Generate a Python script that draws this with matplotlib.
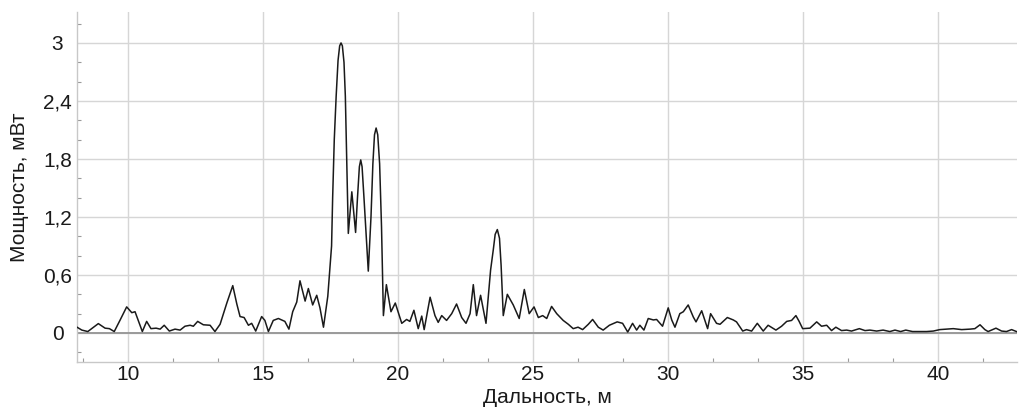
import matplotlib
matplotlib.use("Agg")
import matplotlib.pyplot as plt
from matplotlib.ticker import MultipleLocator, FixedLocator, FuncFormatter

# Distance (m) and power (mW)
distance_m = [
    8.11, 8.29, 8.51, 8.9, 9.15, 9.31, 9.49, 9.7, 9.95, 10.14, 10.26, 10.38, 10.53,
    10.69, 10.85, 11.04, 11.19, 11.34, 11.53, 11.74, 11.93, 12.11, 12.3, 12.42,
    12.58, 12.79, 13.04, 13.22, 13.41, 13.66, 13.88, 14.03, 14.15, 14.3, 14.46,
    14.58, 14.73, 14.95, 15.07, 15.2, 15.38, 15.57, 15.81, 15.96, 16.1, 16.25,
    16.37, 16.56, 16.68, 16.84, 16.99, 17.11, 17.24, 17.4, 17.54, 17.58, 17.64,
    17.71, 17.78, 17.84, 17.89, 17.94, 18.0, 18.05, 18.1, 18.16, 18.29, 18.43,
    18.5, 18.57, 18.62, 18.67, 18.74, 18.9, 19.0, 19.07, 19.13, 19.19, 19.25,
    19.32, 19.39, 19.46, 19.57, 19.74, 19.9, 20.14, 20.32, 20.44, 20.59, 20.75,
    20.88, 20.97, 21.19, 21.37, 21.49, 21.62, 21.8, 21.99, 22.17, 22.36, 22.52,
    22.67, 22.79, 22.91, 23.06, 23.26, 23.43, 23.53, 23.6, 23.68, 23.76, 23.82,
    23.9, 24.05, 24.27, 24.49, 24.68, 24.86, 25.04, 25.2, 25.36, 25.51, 25.69,
    25.88, 26.12, 26.31, 26.49, 26.67, 26.84, 27.05, 27.21, 27.42, 27.6, 27.83,
    28.12, 28.32, 28.51, 28.69, 28.84, 28.96, 29.11, 29.27, 29.46, 29.58, 29.8,
    30.01, 30.14, 30.26, 30.44, 30.57, 30.75, 30.94, 31.04, 31.25, 31.47, 31.58,
    31.8, 31.93, 32.2, 32.42, 32.54, 32.77, 32.91, 33.1, 33.31, 33.53, 33.71,
    34.0, 34.21, 34.4, 34.58, 34.74, 34.86, 34.99, 35.26, 35.51, 35.69, 35.88,
    36.06, 36.22, 36.43, 36.62, 36.8, 37.09, 37.3, 37.48, 37.73, 37.97, 38.22,
    38.41, 38.62, 38.81, 39.06, 39.33, 39.58, 39.83, 40.07, 40.32, 40.57, 40.88,
    41.19, 41.37, 41.56, 41.74, 41.86, 42.15, 42.36, 42.54, 42.73, 42.91,
]
power_mw = [
    0.06, 0.03, 0.015, 0.097, 0.05, 0.045, 0.015, 0.13, 0.27, 0.21, 0.22, 0.13, 0.015,
    0.12, 0.045, 0.05, 0.04, 0.08, 0.02, 0.04, 0.03, 0.07, 0.08, 0.07,
    0.12, 0.085, 0.08, 0.015, 0.09, 0.31, 0.49, 0.3, 0.17, 0.16, 0.08,
    0.1, 0.02, 0.17, 0.13, 0.015, 0.13, 0.15, 0.12, 0.04, 0.22, 0.32,
    0.54, 0.33, 0.46, 0.29, 0.39, 0.26, 0.06, 0.38, 0.9, 1.4, 2.0,
    2.45, 2.82, 2.97, 3.0, 2.97, 2.8, 2.45, 1.8, 1.03, 1.46, 1.04,
    1.4, 1.72, 1.79, 1.72, 1.4, 0.64, 1.2, 1.75, 2.05, 2.12, 2.05,
    1.75, 1.1, 0.18, 0.5, 0.22, 0.31, 0.1, 0.14, 0.12, 0.235, 0.045,
    0.175, 0.035, 0.37, 0.18, 0.11, 0.18, 0.13, 0.2, 0.3, 0.16, 0.1,
    0.2, 0.5, 0.18, 0.39, 0.1, 0.65, 0.86, 1.02, 1.07, 0.98, 0.7,
    0.18, 0.4, 0.29, 0.15, 0.45, 0.2, 0.27, 0.16, 0.18, 0.15, 0.275,
    0.2, 0.13, 0.09, 0.045, 0.06, 0.035, 0.09, 0.14, 0.06, 0.03, 0.08,
    0.115, 0.1, 0.01, 0.1, 0.03, 0.08, 0.03, 0.15, 0.135, 0.14, 0.07,
    0.26, 0.135, 0.06, 0.2, 0.22, 0.29, 0.165, 0.115, 0.23, 0.045, 0.2,
    0.1, 0.09, 0.16, 0.135, 0.115, 0.02, 0.035, 0.02, 0.1, 0.02, 0.08,
    0.03, 0.07, 0.12, 0.13, 0.18, 0.12, 0.045, 0.05, 0.115, 0.07, 0.08,
    0.025, 0.06, 0.025, 0.03, 0.02, 0.045, 0.025, 0.03, 0.02, 0.03, 0.015,
    0.03, 0.015, 0.03, 0.015, 0.015, 0.015, 0.02, 0.035, 0.04, 0.045, 0.035,
    0.04, 0.045, 0.085, 0.035, 0.015, 0.05, 0.02, 0.015, 0.035, 0.015,
]

x_ticks = [10, 15, 20, 25, 30, 35, 40]
y_ticks = [0, 0.6, 1.2, 1.8, 2.4, 3.0]
x_label = "Дальность, м"
y_label = "Мощность, мВт"

plt.rcParams["font.family"] = ["Liberation Sans", "DejaVu Sans"]

fig = plt.figure(figsize=(10.19, 4.09), dpi=100)
ax = fig.add_axes([77 / 1019, 1 - 362 / 409, 940 / 1019, 350 / 409])

ax.set_xlim(8.11, 42.93)
ax.set_ylim(-0.30, 3.32)

ax.xaxis.set_major_locator(FixedLocator(x_ticks))
ax.yaxis.set_major_locator(FixedLocator(y_ticks))
ax.xaxis.set_minor_locator(MultipleLocator(5 / 3))
ax.yaxis.set_minor_locator(MultipleLocator(0.2))


def fmt(v, pos):
    s = f"{v:g}"
    return s.replace(".", ",")


ax.yaxis.set_major_formatter(FuncFormatter(fmt))
ax.xaxis.set_major_formatter(FuncFormatter(fmt))

ax.grid(True, which="major", color="#d6d6d6", linewidth=1.0)
ax.set_axisbelow(True)
ax.axhline(0, color="#9a9a9a", linewidth=1.4, zorder=1.5)

ax.plot(distance_m, power_mw, color="#1a1a1a", linewidth=1.1, zorder=3)

for side in ["top", "right"]:
    ax.spines[side].set_visible(False)
for side in ["left", "bottom"]:
    ax.spines[side].set_color("#c8c8c8")
    ax.spines[side].set_linewidth(1.0)

ax.tick_params(which="major", length=0, labelsize=15, colors="#1a1a1a")
ax.tick_params(axis="y", which="major", pad=14)
ax.tick_params(axis="x", which="major", pad=2)
ax.tick_params(which="minor", direction="in", length=3, width=0.8, color="#9a9a9a")
for lab in ax.get_yticklabels():
    lab.set_horizontalalignment("center")

ax.set_xlabel(x_label, fontsize=15, color="#1a1a1a", labelpad=3)
ax.set_ylabel(y_label, fontsize=15, color="#1a1a1a", labelpad=10)

fig.savefig("out.png", dpi=100)
